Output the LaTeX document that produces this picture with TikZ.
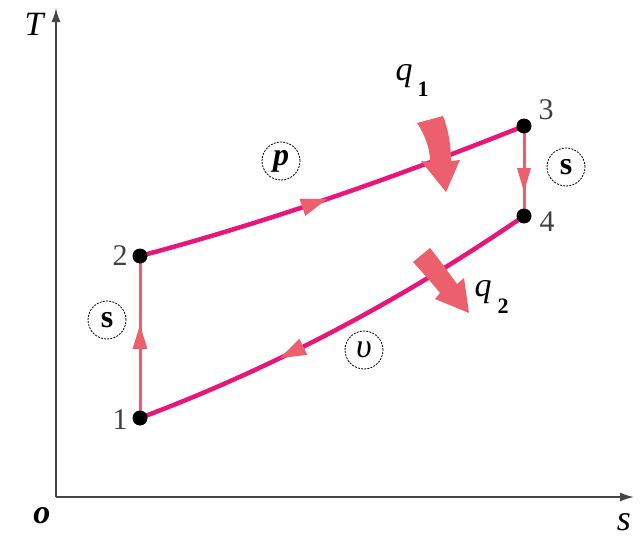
\documentclass[tikz,border=0pt]{standalone}
\usepackage{fontspec}
\setmainfont{Liberation Serif}
\usetikzlibrary{arrows.meta,decorations.markings}
\definecolor{magline}{RGB}{232,22,122}
\definecolor{salmon}{RGB}{236,96,110}
\definecolor{axisgray}{RGB}{70,70,70}
\tikzset{
  axis/.style={draw=axisgray,line width=1.8pt,-{Latex[length=14pt,width=9pt]}},
  proc/.style={draw=magline,line width=4.5pt},
  vproc/.style={draw=salmon,line width=3pt},
  dot/.style={circle,fill=black,inner sep=0pt,minimum size=15pt},
  ptlabel/.style={font=\fontsize{30}{34}\selectfont,text=black!75},
  pcircle/.style={circle,draw=black,dash pattern=on 2pt off 1.2pt,line width=0.8pt,minimum size=38pt,inner sep=0pt,font=\fontsize{32}{34}\selectfont},
  heat/.style={fill=salmon,draw=none},
}
\begin{document}
\begin{tikzpicture}[x=1pt,y=-1pt]
\useasboundingbox (0,0) rectangle (641,541);
% axes
\coordinate (O) at (56,497);
\coordinate (Ttip) at (56,8);
\coordinate (Stip) at (634,497);
\draw[axis] (O) -- (Ttip);
\draw[axis] (O) -- (Stip);
\node[font=\fontsize{34}{38}\selectfont\itshape] (Tl) at (34,24) {T};
\node[font=\fontsize{34}{38}\selectfont\bfseries\itshape] (Ol) at (42,516) {o};
\node[font=\fontsize{36}{40}\selectfont\itshape] (sl) at (624,522) {s};
% points
\coordinate (p1) at (140,418);
\coordinate (p2) at (140,256);
\coordinate (p3) at (524,126);
\coordinate (p4) at (524,216);
% processes
\draw[proc,postaction={decorate},decoration={markings,mark=at position 0.45 with {\fill[salmon] (13,0) -- (-13,9) -- (-13,-9) -- cycle;}}]
  (p2) .. controls (268,222) and (396,177) .. (p3);
\draw[proc,postaction={decorate},decoration={markings,mark=at position 0.62 with {\fill[salmon] (13,0) -- (-13,9) -- (-13,-9) -- cycle;}}]
  (p4) .. controls (396,304) and (268,370) .. (p1);
\draw[vproc,postaction={decorate},decoration={markings,mark=at position 0.5 with {\fill[salmon] (12,0) -- (-12,7.5) -- (-12,-7.5) -- cycle;}}]
  (p1) -- (p2);
\draw[vproc,postaction={decorate},decoration={markings,mark=at position 0.6 with {\fill[salmon] (12,0) -- (-12,7) -- (-12,-7) -- cycle;}}]
  (p3) -- (p4);
% dots
\node[dot] (d1) at (p1) {};
\node[dot] (d2) at (p2) {};
\node[dot] (d3) at (p3) {};
\node[dot] (d4) at (p4) {};
\node[ptlabel] (l1) at (120,420) {1};
\node[ptlabel] (l2) at (120,256) {2};
\node[ptlabel] (l3) at (546,110) {3};
\node[ptlabel] (l4) at (547,222) {4};
% process circles
\node[pcircle] (cs1) at (107,320) {\bfseries s};
\node[pcircle] (cs2) at (566,167) {\bfseries s};
\node[pcircle] (cp) at (281,161) {\bfseries\itshape p};
\node[pcircle] (cv) at (364,350) {\fontsize{34}{36}\selectfont\itshape υ};
% heat arrows
\fill[heat] (417,123) .. controls (425,135) and (430,148) .. (430,162)
  -- (421,161) -- (446,192) -- (460,160) -- (451,161)
  .. controls (451,145) and (448,128) .. (443,116) -- cycle;
\fill[heat] (413,262) .. controls (422,272) and (432,283) .. (440,293)
  -- (435,299) -- (469,313) -- (464,278) -- (457,284)
  .. controls (448,272) and (439,259) .. (430,248) -- cycle;
\node[font=\fontsize{34}{38}\selectfont\itshape] (q1) at (404,76) {q};
\node[font=\fontsize{22}{24}\selectfont\bfseries] (q1s) at (423,89) {1};
\node[font=\fontsize{34}{38}\selectfont\itshape] (q2) at (483,292) {q};
\node[font=\fontsize{22}{24}\selectfont\bfseries] (q2s) at (503,306) {2};
\end{tikzpicture}
\end{document}
